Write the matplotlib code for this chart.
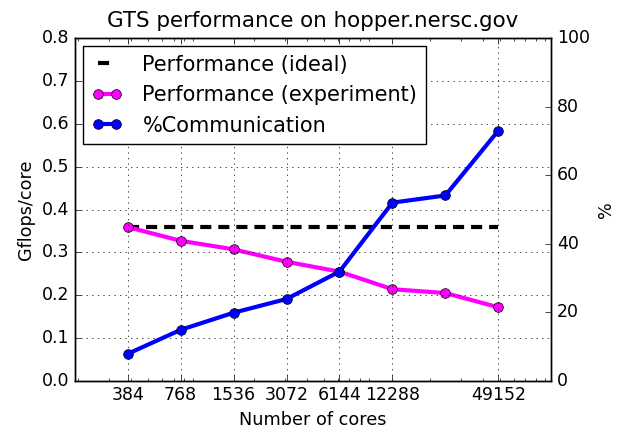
import matplotlib
matplotlib.use("Agg")
import matplotlib.pyplot as plt
from matplotlib.ticker import FixedLocator, FixedFormatter, NullFormatter

cores = [384, 768, 1536, 3072, 6144, 12288, 24576, 49152]
tick_cores = [384, 768, 1536, 3072, 6144, 12288, 49152]
perf_ideal = [0.359] * 8
perf_exp = [0.359, 0.327, 0.307, 0.278, 0.255, 0.214, 0.205, 0.172]
comm_pct = [7.9, 14.9, 19.9, 23.9, 31.9, 52.0, 54.1, 73.0]


def main():
    plt.style.use('classic')
    plt.rcParams['font.size'] = 12.7
    plt.rcParams['lines.scale_dashes'] = False
    fig = plt.figure(figsize=(6.18, 4.28), dpi=100)
    ax = fig.add_axes([0.121, 0.110, 0.771, 0.801])
    ax2 = ax.twinx()

    l1, = ax.plot(cores, perf_ideal, 'k--', lw=3, dashes=(8, 5),
                  label='Performance (ideal)')
    l2, = ax.plot(cores, perf_exp, '-o', color='magenta', mfc='magenta', mec='k',
                  lw=3, ms=7, label='Performance (experiment)')
    l3, = ax2.plot(cores, comm_pct, '-o', color='blue', mfc='blue', mec='k',
                   lw=3, ms=7, label='%Communication')

    ax.set_xscale('log')
    ax.set_xlim(192, 98304)
    ax.xaxis.set_major_locator(FixedLocator(tick_cores))
    ax.xaxis.set_major_formatter(FixedFormatter([str(c) for c in tick_cores]))
    ax.xaxis.set_minor_formatter(NullFormatter())
    ax.set_ylim(0, 0.8)
    ax.set_yticks([0.0, 0.1, 0.2, 0.3, 0.4, 0.5, 0.6, 0.7, 0.8])
    ax2.set_ylim(0, 100)
    ax2.set_yticks([0, 20, 40, 60, 80, 100])
    for a in (ax, ax2):
        a.tick_params(labelsize=12.5)

    ax.grid(True)
    ax.set_xlabel('Number of cores', fontsize=12.7)
    ax.set_ylabel('Gflops/core', fontsize=12.7)
    ax2.set_ylabel('%', fontsize=12.7)
    ax.set_title('GTS performance on hopper.nersc.gov', fontsize=15.4, pad=8)

    ax.legend([l1, l2, l3], [l.get_label() for l in (l1, l2, l3)],
              loc='upper left', fontsize=15, numpoints=2,
              handlelength=1.5, handletextpad=0.95, borderaxespad=0.4)

    fig.savefig('out.png', dpi=100)
    plt.close(fig)


if __name__ == '__main__':
    main()
